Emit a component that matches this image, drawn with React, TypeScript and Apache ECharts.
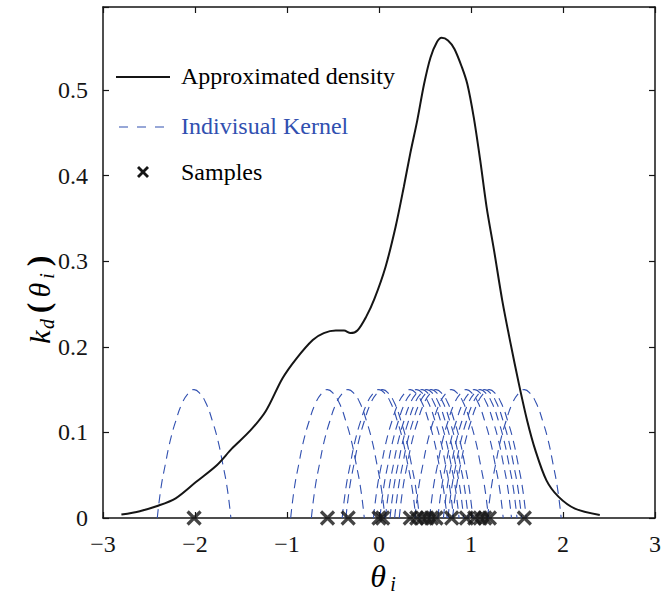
import React, { useEffect, useRef } from "react";
import * as echarts from "echarts";

// Approximated density curve
const densityX = [-2.8, -2.6, -2.41, -2.21, -1.99, -1.76, -1.6, -1.4, -1.23, -1.05, -0.9, -0.72, -0.6, -0.47, -0.38, -0.31, -0.235, -0.14, -0.05, 0.07, 0.18, 0.27, 0.34, 0.415, 0.49, 0.56, 0.63, 0.68, 0.75, 0.82, 0.9, 0.96, 1.03, 1.1, 1.17, 1.25, 1.34, 1.43, 1.52, 1.61, 1.7, 1.82, 1.95, 2.13, 2.4];
const densityY = [0.004, 0.008, 0.014, 0.023, 0.042, 0.062, 0.081, 0.102, 0.125, 0.163, 0.186, 0.208, 0.216, 0.219, 0.219, 0.216, 0.219, 0.235, 0.256, 0.293, 0.34, 0.387, 0.426, 0.464, 0.507, 0.538, 0.556, 0.561, 0.558, 0.548, 0.527, 0.507, 0.468, 0.418, 0.363, 0.313, 0.254, 0.204, 0.157, 0.114, 0.079, 0.044, 0.025, 0.011, 0.0035];

// Sample positions (crosses on the x axis)
const samples = [-2.01, -0.56, -0.335, 0.0, 0.04, 0.34, 0.41, 0.47, 0.52, 0.57, 0.62, 0.79, 0.95, 1.04, 1.1, 1.15, 1.2, 1.58];

// Shape of an individual kernel (offset from sample, height), read from the kernel at -2
const kernelOffsets = [-0.4, -0.36, -0.31, -0.26, -0.2, -0.13, -0.06, 0, 0.06, 0.13, 0.2, 0.26, 0.31, 0.36, 0.4];
const kernelHeights = [0, 0.035, 0.064, 0.09, 0.113, 0.134, 0.146, 0.15, 0.146, 0.134, 0.113, 0.09, 0.064, 0.035, 0];

const xTicks = [-3, -2, -1, 0, 1, 2, 3];
const yTickLabels = ["0", "0.1", "0.2", "0.3", "0.4", "0.5"];

const legendLabels = ["Approximated density", "Indivisual Kernel", "Samples"];

const FONT = "'Liberation Serif', 'Times New Roman', serif";
const INK = "#151515";
const BLUE = "#3150b0";

export default function App() {
  const ref = useRef<HTMLDivElement>(null);
  useEffect(() => {
    if (!ref.current) return;
    const chart = echarts.init(ref.current, null, { renderer: "svg" });

    const axisCommon = {
      type: "value" as const,
      splitLine: { show: false },
      axisLine: { show: true, onZero: false, lineStyle: { color: INK, width: 1.5 } },
      axisTick: { show: true, inside: true, length: 6, lineStyle: { color: INK, width: 1.2 } },
    };

    const kernelSeries = samples.map((s) => ({
      name: legendLabels[1],
      type: "line",
      data: kernelOffsets.map((o, i) => [s + o, kernelHeights[i]]),
      smooth: 0.5,
      symbol: "none",
      lineStyle: { color: BLUE, width: 1.1, type: [9, 6] },
      z: 2,
    }));

    const option: any = {
      animation: false,
      backgroundColor: "#ffffff",
      grid: { left: 103, right: 7, top: 7, bottom: 80 },
      xAxis: [
        {
          ...axisCommon,
          min: -3,
          max: 3,
          interval: 1,
          position: "bottom",
          z: 1,
          axisLabel: {
            margin: 14,
            fontFamily: FONT,
            fontSize: 24,
            color: INK,
            formatter: (v: number) => {
              const t = xTicks.find((k) => Math.abs(k - v) < 1e-6);
              if (t === undefined) return "";
              return t < 0 ? "\u2212" + Math.abs(t) : String(t);
            },
          },
        },
        {
          ...axisCommon,
          min: -3,
          max: 3,
          interval: 1,
          position: "top",
          axisLabel: { show: false },
        },
      ],
      yAxis: [
        {
          ...axisCommon,
          min: 0,
          max: 0.597,
          interval: 0.1,
          position: "left",
          axisLabel: {
            margin: 15,
            fontFamily: FONT,
            fontSize: 24,
            color: INK,
            formatter: (v: number) => {
              const idx = Math.round(v * 10);
              if (Math.abs(v * 10 - idx) > 1e-6) return "";
              return yTickLabels[idx] ?? "";
            },
          },
        },
        {
          ...axisCommon,
          min: 0,
          max: 0.597,
          interval: 0.1,
          position: "right",
          axisLabel: { show: false },
        },
      ],
      series: [
        ...kernelSeries,
        {
          name: legendLabels[0],
          type: "line",
          data: densityX.map((x, i) => [x, densityY[i]]),
          smooth: 0.3,
          symbol: "none",
          lineStyle: { color: INK, width: 2 },
          z: 3,
        },
        {
          name: legendLabels[2],
          type: "scatter",
          data: samples.map((s) => [s, 0]),
          symbol: "path://M0,0L10,10M10,0L0,10",
          symbolSize: 13,
          clip: false,
          itemStyle: { color: "none", borderColor: INK, borderWidth: 3.2 },
          z: 4,
        },
      ],
      graphic: [
        // legend
        { type: "line", shape: { x1: 116, y1: 77, x2: 170, y2: 77 }, style: { stroke: INK, lineWidth: 2 } },
        { type: "text", x: 181, y: 76, style: { text: legendLabels[0], fontFamily: FONT, fontSize: 24, fill: "#000", verticalAlign: "middle" } },
        { type: "line", shape: { x1: 119, y1: 127, x2: 166, y2: 127 }, style: { stroke: BLUE, lineWidth: 1.2, lineDash: [9, 9] } },
        { type: "text", x: 181, y: 126, style: { text: legendLabels[1], fontFamily: FONT, fontSize: 24, fill: BLUE, verticalAlign: "middle" } },
        { type: "line", shape: { x1: 138, y1: 167, x2: 148, y2: 177 }, style: { stroke: INK, lineWidth: 2.8 } },
        { type: "line", shape: { x1: 148, y1: 167, x2: 138, y2: 177 }, style: { stroke: INK, lineWidth: 2.8 } },
        { type: "text", x: 181, y: 172, style: { text: legendLabels[2], fontFamily: FONT, fontSize: 24, fill: "#000", verticalAlign: "middle" } },
        // y axis name k_d(θ_i)
        {
          type: "group",
          x: 46,
          y: 297,
          rotation: Math.PI / 2,
          children: [
            { type: "text", x: -40, y: -7, style: { text: "k", fontFamily: FONT, fontStyle: "italic", fontSize: 30, fill: "#000", align: "center", verticalAlign: "middle" } },
            { type: "text", x: -27, y: 1, style: { text: "d", fontFamily: FONT, fontStyle: "italic", fontSize: 20, fill: "#000", align: "center", verticalAlign: "middle" } },
            { type: "text", x: -11, y: -8, style: { text: "(", fontFamily: FONT, fontSize: 32, fontWeight: "bold", fill: "#000", align: "center", verticalAlign: "middle" } },
            { type: "text", x: 7, y: -7, style: { text: "θ", fontFamily: FONT, fontStyle: "italic", fontSize: 30, fill: "#000", align: "center", verticalAlign: "middle" } },
            { type: "text", x: 21, y: 1, style: { text: "i", fontFamily: FONT, fontStyle: "italic", fontSize: 20, fill: "#000", align: "center", verticalAlign: "middle" } },
            { type: "text", x: 36, y: -8, style: { text: ")", fontFamily: FONT, fontSize: 32, fontWeight: "bold", fill: "#000", align: "center", verticalAlign: "middle" } },
          ],
        },
        // x axis name θ_i
        { type: "text", x: 378, y: 576, style: { text: "θ", fontFamily: FONT, fontStyle: "italic", fontSize: 32, fill: "#000", align: "center", verticalAlign: "middle" } },
        { type: "text", x: 393, y: 584, style: { text: "i", fontFamily: FONT, fontStyle: "italic", fontSize: 20, fill: "#000", align: "center", verticalAlign: "middle" } },
      ],
    };

    chart.setOption(option);
    return () => chart.dispose();
  }, []);

  return <div ref={ref} style={{ position: "absolute", left: 0, top: 0, width: 664, height: 598 }} />;
}
